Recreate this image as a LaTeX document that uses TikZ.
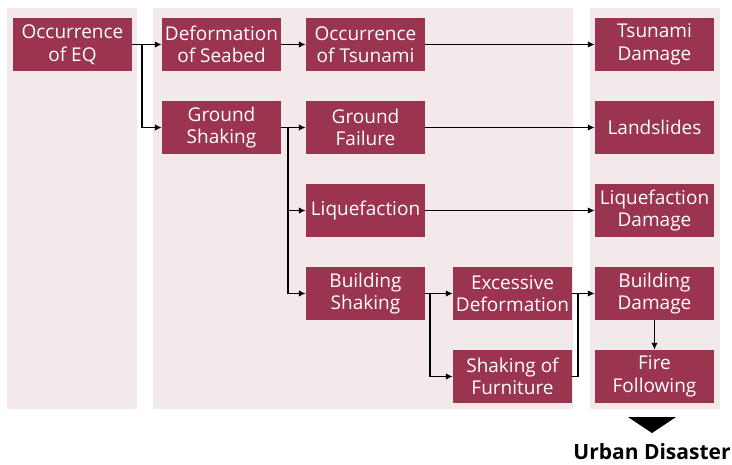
\documentclass[tikz,border=0pt]{standalone}
\usepackage{fontspec}
\setmainfont{Open Sans}
\usetikzlibrary{arrows.meta}
\definecolor{boxc}{HTML}{9B344F}
\definecolor{panelc}{HTML}{F3E8EA}
\tikzset{
  cell/.style={fill=boxc, text=white, minimum width=119pt, minimum height=53pt,
    inner sep=0pt, align=center, font=\fontsize{19}{22.5}\selectfont},
  panel/.style={fill=panelc, draw=none},
  conn/.style={line width=1.6pt, -{Latex[length=7pt,width=6.5pt]}},
  plain/.style={line width=1.6pt}
}
\begin{document}
\begin{tikzpicture}[x=1pt,y=-1pt]
\useasboundingbox (0,0) rectangle (732,464);
\fill[panel] (7,8) rectangle (137,409);
\fill[panel] (153,8) rectangle (573,409);
\fill[panel] (590,8) rectangle (720,409);

\node[cell] (eq) at (72.5,44.5) {Occurrence\\of EQ};
\node[cell] (seabed) at (221.5,44.5) {Deformation\\of Seabed};
\node[cell] (gshake) at (221.5,127.5) {Ground\\Shaking};
\node[cell] (tsu) at (365.5,44.5) {Occurrence\\of Tsunami};
\node[cell] (gfail) at (365.5,127.5) {Ground\\Failure};
\node[cell] (liq) at (365.5,210.5) {Liquefaction};
\node[cell] (bshake) at (365.5,293.5) {Building\\Shaking};
\node[cell] (exc) at (512.5,293.5) {Excessive\\Deformation};
\node[cell] (furn) at (512.5,376.5) {Shaking of\\Furniture};
\node[cell] (tdam) at (654.5,44.5) {Tsunami\\Damage};
\node[cell] (lslide) at (654.5,127.5) {Landslides};
\node[cell] (ldam) at (654.5,210.5) {Liquefaction\\Damage};
\node[cell] (bdam) at (654.5,293.5) {Building\\Damage};
\node[cell] (fire) at (654.5,376.5) {Fire\\Following};

\draw[conn] (eq.east) -- (seabed.west);
\draw[conn] (eq.east) -- ++(10,0) |- (gshake.west);
\draw[conn] (seabed.east) -- (tsu.west);
\draw[conn] (gshake.east) -- (gfail.west);
\draw[conn] (gshake.east) -- ++(7,0) |- (liq.west);
\draw[conn] (gshake.east) -- ++(7,0) |- (bshake.west);
\draw[conn] (tsu.east) -- (tdam.west);
\draw[conn] (gfail.east) -- (lslide.west);
\draw[conn] (liq.east) -- (ldam.west);
\draw[conn] (bshake.east) -- (exc.west);
\draw[conn] (bshake.east) -- ++(5,0) |- (furn.west);
\draw[conn] (exc.east) -- (bdam.west);
\draw[plain] (furn.east) -- ++(5.5,0) coordinate (fj) -- (fj |- exc.east);
\draw[conn] (bdam.south) -- (fire.north);

\fill[black] (628,417) -- (676,417) -- (652,433) -- cycle;
\node[font=\fontsize{21}{24}\selectfont\bfseries, inner sep=0pt] (urban) at (652,452) {Urban Disaster};
\end{tikzpicture}
\end{document}
